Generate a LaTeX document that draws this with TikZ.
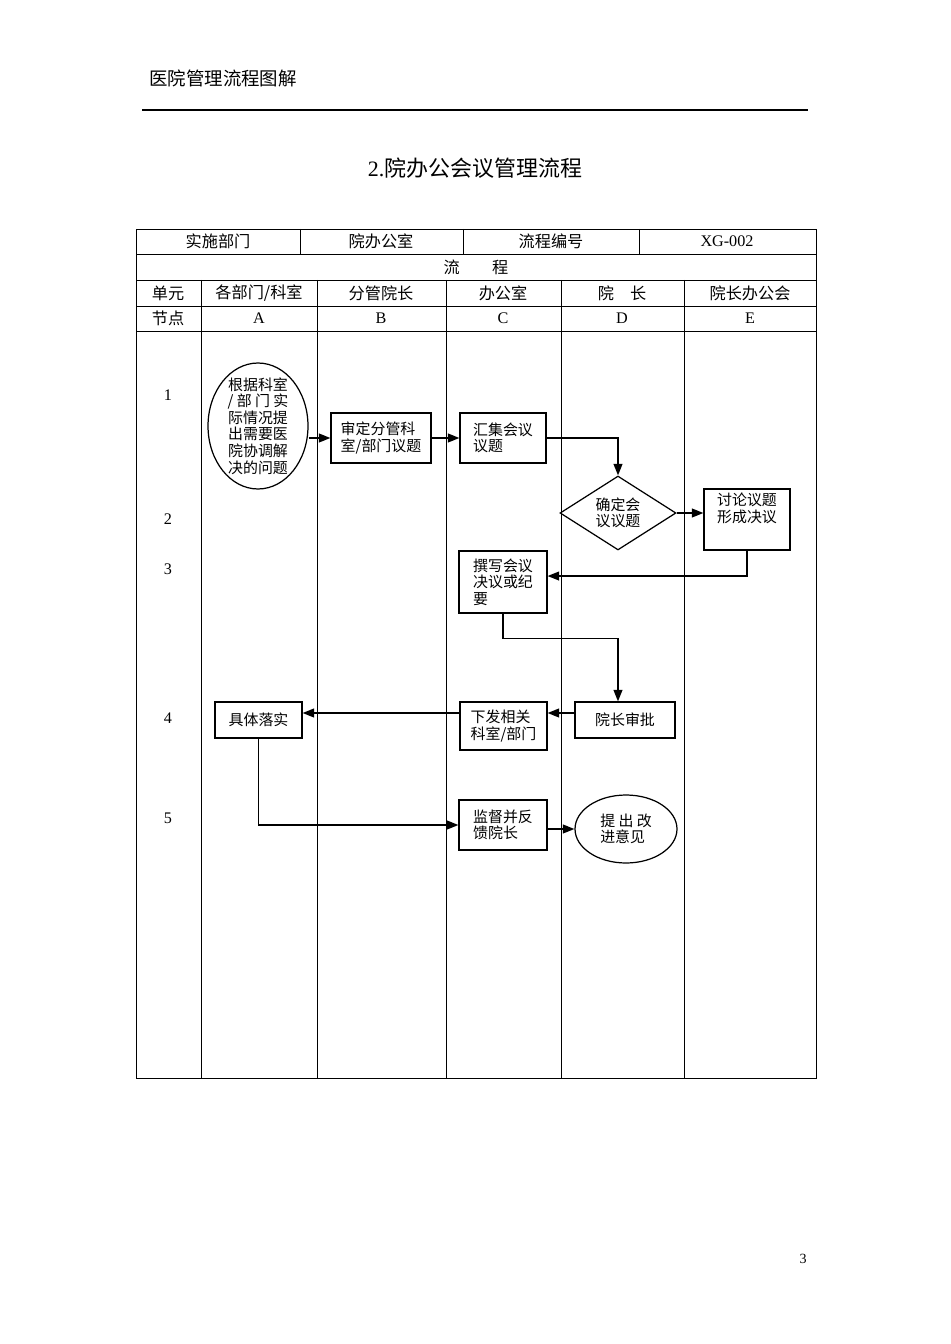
\documentclass[tikz,border=0pt]{standalone}
\usepackage{fontspec}
\setmainfont{Noto Sans CJK SC}
\newfontfamily\latinfont{Liberation Serif}
\usetikzlibrary{arrows.meta, shapes.geometric}

\tikzset{
  grid/.style={line width=0.5pt},
  cell/.style={font=\fontsize{9.2}{11}\selectfont},
  box/.style={draw, line width=0.7pt, align=left, inner sep=0pt, font=\fontsize{8.5}{9.4}\selectfont},
  arr/.style={-{Triangle[length=6.5pt,width=5pt]}, line width=0.8pt},
}

\begin{document}
\begin{tikzpicture}[x=0.02cm, y=-0.02cm]
  \useasboundingbox (0,0) rectangle (950,1344);

  % page head and title
  \node[anchor=west, font=\fontsize{10.5}{12}\selectfont] (head) at (143,78) {医院管理流程图解};
  \draw[line width=0.8pt] (142,110) -- (808,110);
  \node[font=\fontsize{12.5}{14}\selectfont] (title) at (475,168) {{\latinfont 2.}院办公会议管理流程};

  % table
  \draw[grid] (136,229) rectangle (816,1078);
  \foreach \y in {254,280,306,331} \draw[grid] (136,\y) -- (816,\y);
  \foreach \x in {300,463,639} \draw[grid] (\x,229) -- (\x,254);
  \foreach \x in {201,317,446,561,684} \draw[grid] (\x,280) -- (\x,1078);

  \node[cell] (dept) at (218,241.5) {实施部门};
  \node[cell] (office) at (381,241.5) {院办公室};
  \node[cell] (code) at (551,241.5) {流程编号};
  \node[cell] (codeval) at (727,241.5) {\latinfont XG-002};
  \node[cell] (flow) at (476,267) {流\hspace{2em}程};

  \foreach \x/\t [count=\i] in {168/{单元}, 259/{各部门/科室}, 381/{分管院长}, 503/{办公室}, 622/{院\quad 长}, 750/{院长办公会}}
    \node[cell] (unit\i) at (\x,293) {\t};
  \node[cell] (nodehead) at (168,318.5) {节点};
  \foreach \x/\t in {259/A, 381/B, 503/C, 622/D, 750/E}
    \node[cell] (lane\t) at (\x,318.5) {\latinfont \t};
  \foreach \y/\t in {395/1, 519/2, 569/3, 718/4, 818/5}
    \node[cell] (step\t) at (168,\y) {\latinfont \t};

  % flow
  \node[box, ellipse, minimum width=2cm, minimum height=2.52cm] (a1) at (258,426) {};
  \node[box, draw=none, align=center] (a1text) at (a1) {根据科室\\/ 部 门 实\\际情况提\\出需要医\\院协调解\\决的问题};
  \node[box, minimum width=2cm, minimum height=1cm] (b1) at (381,438) {审定分管科\\室/部门议题};
  \node[box, minimum width=1.72cm, minimum height=1cm] (c1) at (503,438) {汇集会议\\议题};
  \node[box, diamond, shape aspect=1.57, minimum width=2.32cm, minimum height=1.48cm, align=center] (d2) at (618,513) {确定会\\议议题};
  \node[box, minimum width=1.72cm, minimum height=1.22cm] (e2) at (747,519.5) {讨论议题\\形成决议\\[4pt]};
  \node[box, minimum width=1.76cm, minimum height=1.24cm] (c3) at (503,582) {撰写会议\\决议或纪\\要};
  \node[box, minimum width=2cm, minimum height=0.72cm] (d4) at (625,720) {院长审批};
  \node[box, minimum width=1.74cm, minimum height=0.96cm] (c4) at (503.5,726) {下发相关\\科室/部门};
  \node[box, minimum width=1.74cm, minimum height=0.72cm] (a4) at (258.5,720) {具体落实};
  \node[box, minimum width=1.76cm, minimum height=1cm] (c5) at (503,825) {监督并反\\馈院长};
  \node[box, ellipse, minimum width=2.04cm, minimum height=1.36cm] (d5) at (626,829) {提 出 改\\进意见};

  \coordinate (row4) at (0,713);
  \draw[arr] (a1.east |- b1.west) -- (b1.west);
  \draw[arr] (b1.east) -- (c1.west);
  \draw[arr] (c1.east) -| (d2.north);
  \draw[arr] (d2.east) -- (e2.west |- d2.east);
  \draw[arr] (e2.south) |- ([yshift=3.4pt]c3.east);
  \draw[arr] (c3.south) -- ++(0,25) -| ([xshift=-4pt]d4.north);
  \draw[arr] (d4.west |- row4) -- (c4.east |- row4);
  \draw[arr] (c4.west |- row4) -- (a4.east |- row4);
  \draw[arr] (a4.south) |- (c5.west);
  \draw[arr] (c5.east |- d5.west) -- (d5.west);

  \node[font=\fontsize{8}{9}\selectfont] (page) at (803,1259) {\latinfont 3};
\end{tikzpicture}
\end{document}
